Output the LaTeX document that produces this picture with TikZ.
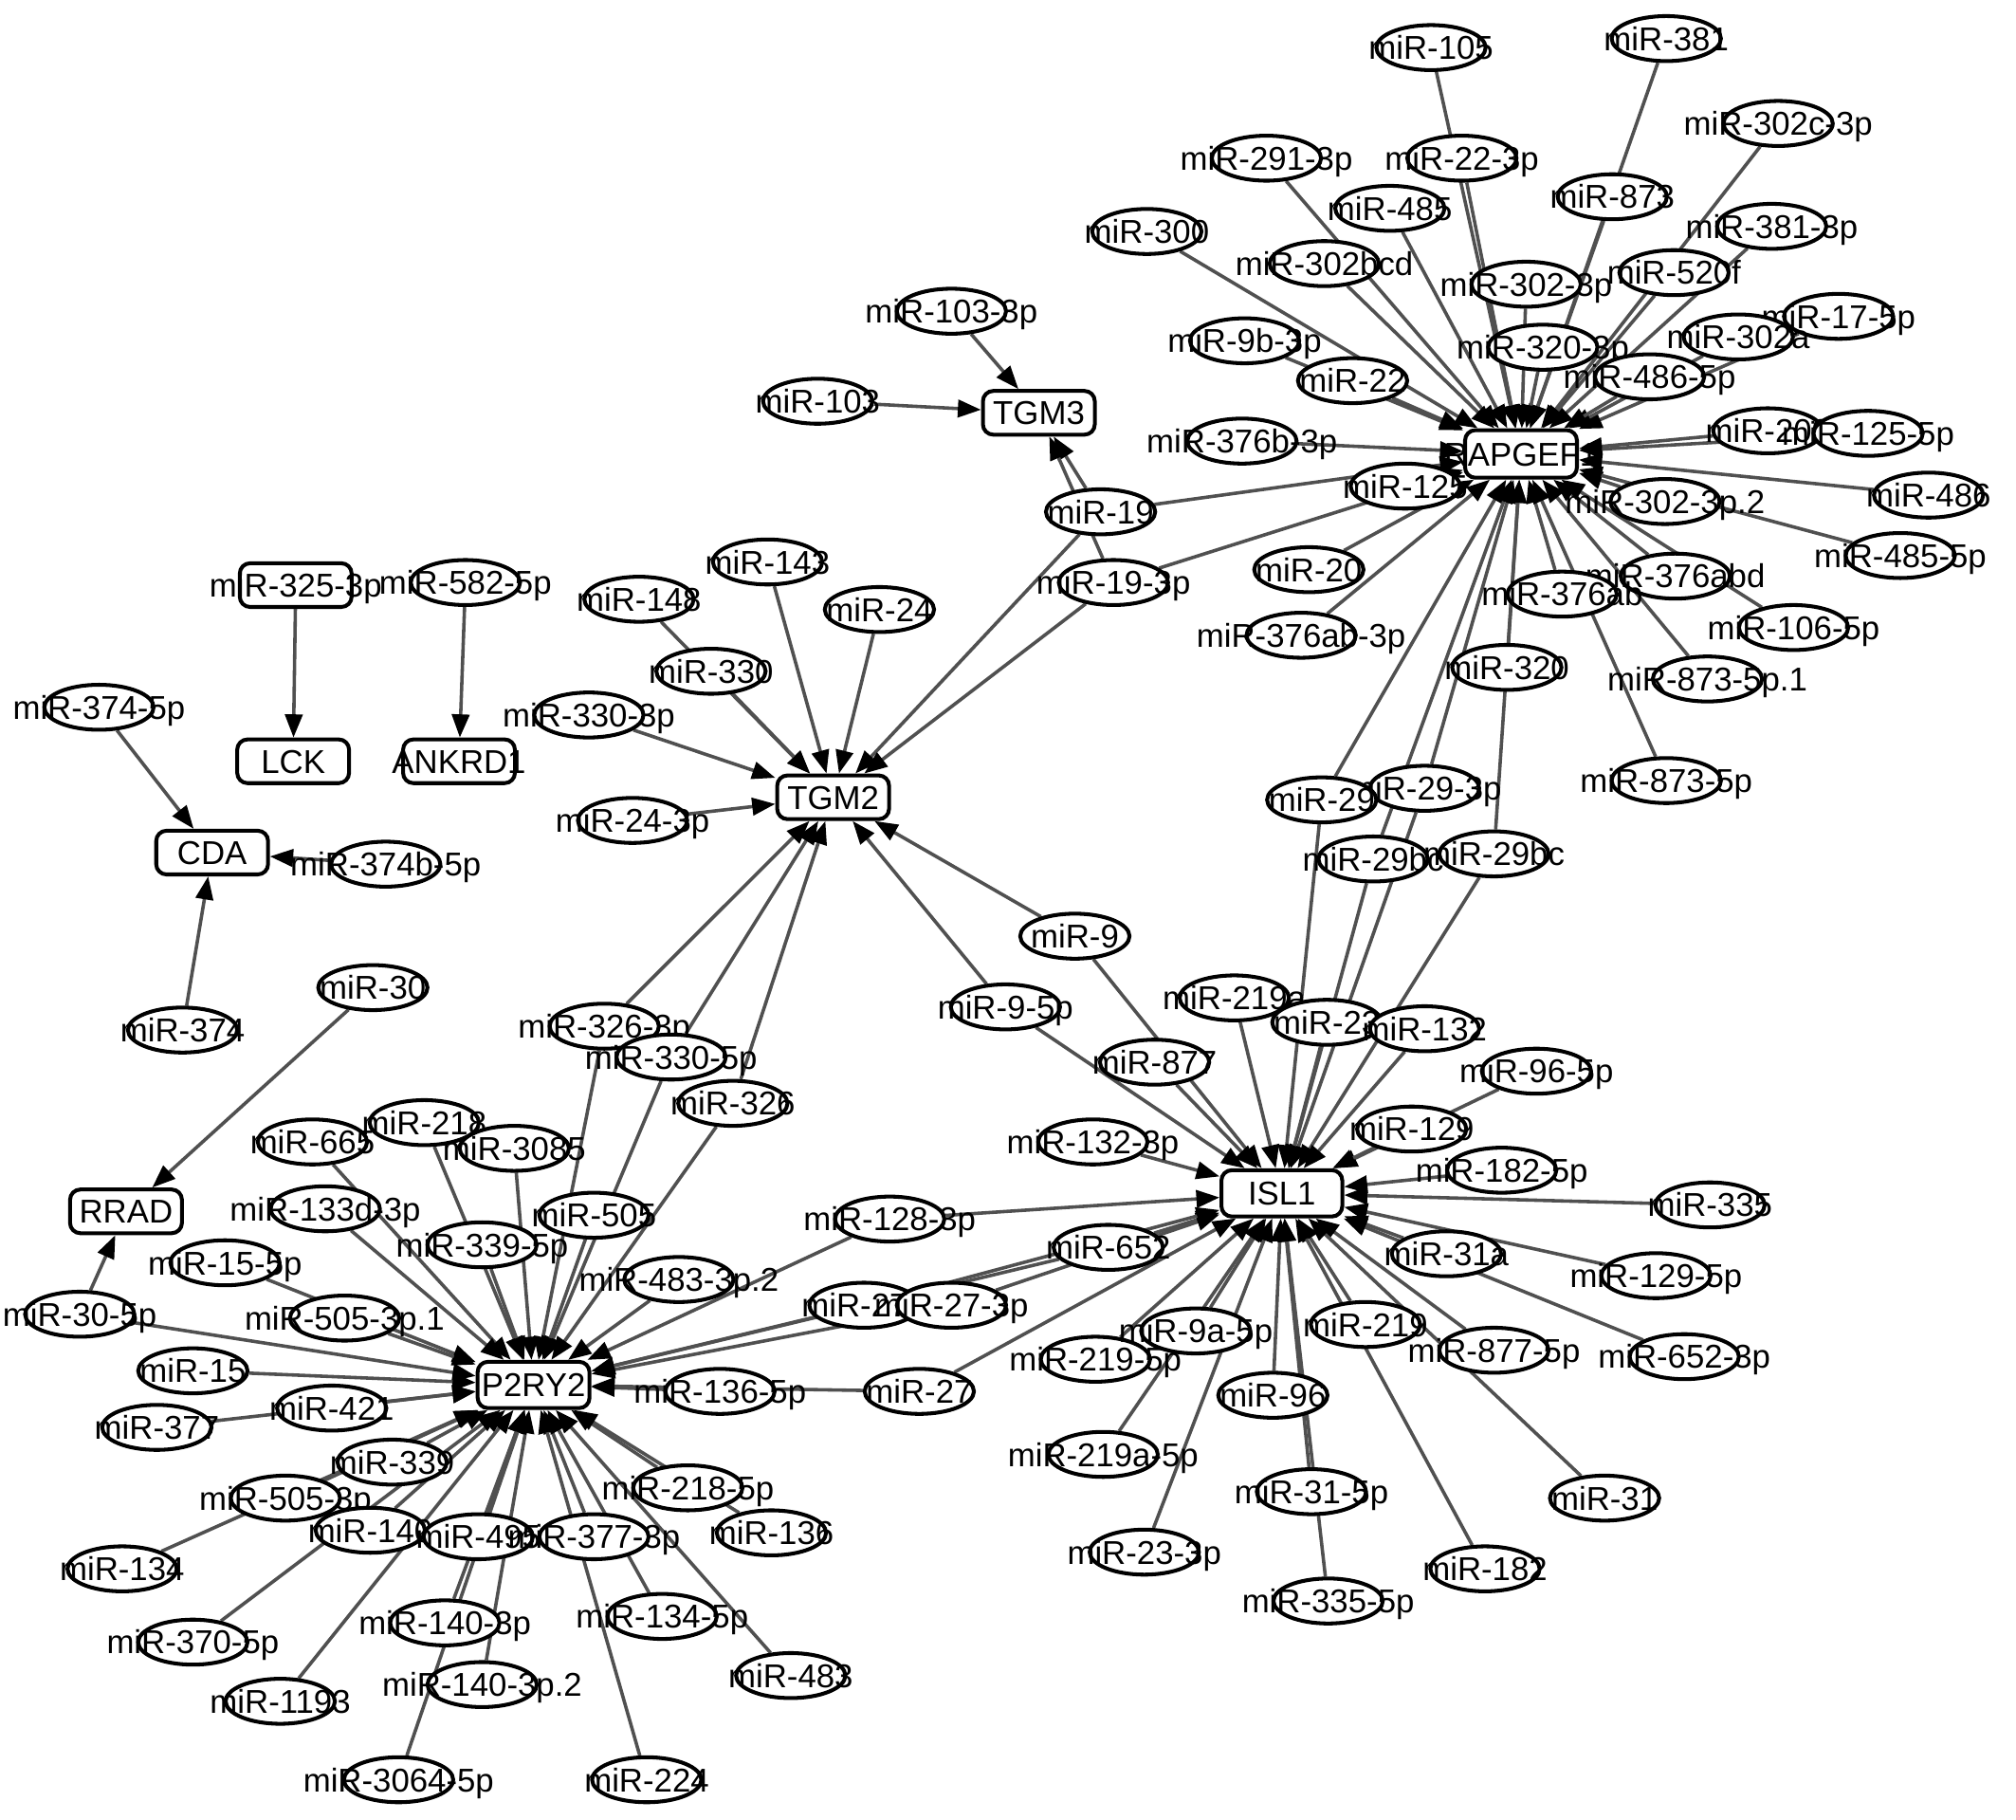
\documentclass[tikz,border=0pt]{standalone}
\usepackage{fontspec}
\usetikzlibrary{shapes.geometric,arrows.meta}
\newfontfamily\labf{Liberation Sans}
\newcommand\labfont{\labf\fontsize{7.3}{8}\selectfont}
\newcommand\tl[1]{\smash{\raisebox{-0.36em}{\makebox[0pt]{#1}}}}
\definecolor{edgegray}{RGB}{80,80,80}
\pgfdeclarelayer{bg}
\pgfdeclarelayer{genes}
\pgfdeclarelayer{edges}
\pgfsetlayers{bg,genes,edges,main}
\tikzset{
  mi/.style={ellipse, draw=black, line width=0.85pt, fill=white, minimum width=8.5mm, minimum height=3.5mm, inner sep=0pt, font=\labfont},
  gene/.style={rectangle, rounded corners=0.8mm, draw=black, line width=0.85pt, fill=white, minimum width=8.7mm, minimum height=3.4mm, inner sep=0pt, font=\labfont},
  edge/.style={draw=edgegray, line width=0.75pt, -{Triangle[length=1.8mm,width=1.35mm,color=black]}}
}
\begin{document}
\begin{tikzpicture}[x=0.1mm,y=-0.1mm]
\begin{pgfonlayer}{bg}
\fill[white] (0,0) rectangle (1568,1415);
\end{pgfonlayer}
\useasboundingbox (0,0) rectangle (1568,1415);
% ---------- genes ----------
\begin{pgfonlayer}{genes}
\node[gene, minimum height=3.7mm] (RAP) at (1183,353) {\tl{RAPGEF1}};
\node[gene] (TGM3) at (808,321) {\tl{TGM3}};
\node[gene] (TGM2) at (648,620) {\tl{TGM2}};
\node[gene, minimum width=9.4mm, minimum height=3.6mm] (ISL1) at (997,928) {\tl{ISL1}};
\node[gene, minimum height=3.6mm] (P2RY2) at (415,1077) {\tl{P2RY2}};
\node[gene] (LCK) at (228,592) {\tl{LCK}};
\node[gene] (ANK) at (357,592) {\tl{ANKRD1}};
\node[gene] (CDA) at (165,663) {\tl{CDA}};
\node[gene] (RRAD) at (98,942) {\tl{RRAD}};
\end{pgfonlayer}
% ---------- RAPGEF1 cluster ----------
\node[mi] (n105) at (1113,37) {\tl{miR-105}};
\node[mi] (n381) at (1296,30) {\tl{miR-381}};
\node[mi] (n302c3p) at (1383,96) {\tl{miR-302c-3p}};
\node[mi] (n2913p) at (985,123) {\tl{miR-291-3p}};
\node[mi] (n223p) at (1137,123) {\tl{miR-22-3p}};
\node[mi] (n873) at (1254,153) {\tl{miR-873}};
\node[mi] (n485) at (1081,162) {\tl{miR-485}};
\node[mi] (n300) at (892,180) {\tl{miR-300}};
\node[mi] (n3813p) at (1378,176) {\tl{miR-381-3p}};
\node[mi] (n302bcd) at (1030,205) {\tl{miR-302bcd}};
\node[mi] (n3023p) at (1187,221) {\tl{miR-302-3p}};
\node[mi] (n520f) at (1302,212) {\tl{miR-520f}};
\node[mi] (n175p) at (1430,246) {\tl{miR-17-5p}};
\node[mi] (n302a) at (1352,262) {\tl{miR-302a}};
\node[mi] (n9b3p) at (968,265) {\tl{miR-9b-3p}};
\node[mi] (n3203p) at (1200,270) {\tl{miR-320-3p}};
\node[mi] (n22) at (1052,296) {\tl{miR-22}};
\node[mi] (n4865p) at (1283,293) {\tl{miR-486-5p}};
\node[mi] (n376b3p) at (966,343) {\tl{miR-376b-3p}};
\node[mi] (n200) at (1375,335) {\tl{miR-200}};
\node[mi] (n1255p) at (1453,337) {\tl{miR-125-5p}};
\node[mi] (n486) at (1500,385) {\tl{miR-486}};
\node[mi] (n125) at (1093,378) {\tl{miR-125}};
\node[mi] (n19) at (856,398) {\tl{miR-19}};
\node[mi] (n3023pb) at (1295,390) {\tl{miR-302-3p.2}};
\node[mi] (n4855p) at (1478,432) {\tl{miR-485-5p}};
\node[mi] (n20) at (1018,443) {\tl{miR-20}};
\node[mi] (n193p) at (866,453) {\tl{miR-19-3p}};
\node[mi] (n376abd) at (1303,448) {\tl{miR-376abd}};
\node[mi] (n376ab) at (1215,462) {\tl{miR-376ab}};
\node[mi] (n1065p) at (1395,488) {\tl{miR-106-5p}};
\node[mi] (n376ab3p) at (1012,494) {\tl{miR-376ab-3p}};
\node[mi] (n320) at (1172,519) {\tl{miR-320}};
\node[mi] (n8735pa) at (1328,528) {\tl{miR-873-5p.1}};
\node[mi] (n8735p) at (1296,607) {\tl{miR-873-5p}};
\node[mi] (n293p) at (1108,613) {\tl{miR-29-3p}};
\node[mi] (n29) at (1028,622) {\tl{miR-29}};
\node[mi] (n29bc) at (1068,668) {\tl{miR-29bc}};
\node[mi] (n29bcb) at (1162,664) {\tl{miR-29bc}};
% ---------- TGM3 ----------
\node[mi] (n1033p) at (740,242) {\tl{miR-103-3p}};
\node[mi] (n103) at (636,312) {\tl{miR-103}};
% ---------- left small genes ----------
\node[gene] (n3253p) at (230,455) {\tl{miR-325-3p}};
\node[mi] (n5825p) at (362,453) {\tl{miR-582-5p}};
\node[mi] (n3745p) at (77,550) {\tl{miR-374-5p}};
\node[mi] (n374b5p) at (300,672) {\tl{miR-374b-5p}};
\node[mi] (n374) at (142,801) {\tl{miR-374}};
\node[mi] (n30) at (290,768) {\tl{miR-30}};
% ---------- TGM2 ----------
\node[mi] (n143) at (597,437) {\tl{miR-143}};
\node[mi] (n148) at (497,466) {\tl{miR-148}};
\node[mi] (n24) at (684,474) {\tl{miR-24}};
\node[mi] (n330) at (553,522) {\tl{miR-330}};
\node[mi] (n3303p) at (458,556) {\tl{miR-330-3p}};
\node[mi] (n243p) at (492,638) {\tl{miR-24-3p}};
\node[mi] (n9) at (836,728) {\tl{miR-9}};
\node[mi] (n95p) at (782,783) {\tl{miR-9-5p}};
% ---------- ISL1 ----------
\node[mi] (n219a) at (960,776) {\tl{miR-219a}};
\node[mi] (n23) at (1032,795) {\tl{miR-23}};
\node[mi] (n132) at (1108,800) {\tl{miR-132}};
\node[mi] (n877) at (898,826) {\tl{miR-877}};
\node[mi] (n965p) at (1195,833) {\tl{miR-96-5p}};
\node[mi] (n129) at (1098,878) {\tl{miR-129}};
\node[mi] (n1323p) at (850,888) {\tl{miR-132-3p}};
\node[mi] (n1825p) at (1168,910) {\tl{miR-182-5p}};
\node[mi] (n335) at (1330,937) {\tl{miR-335}};
\node[mi] (n1283p) at (692,948) {\tl{miR-128-3p}};
\node[mi] (n652) at (862,970) {\tl{miR-652}};
\node[mi] (n31a) at (1125,975) {\tl{miR-31a}};
\node[mi] (n1295p) at (1288,992) {\tl{miR-129-5p}};
\node[mi] (n27a) at (672,1015) {\tl{miR-27a}};
\node[mi] (n273p) at (740,1015) {\tl{miR-27-3p}};
\node[mi] (n219) at (1062,1030) {\tl{miR-219}};
\node[mi] (n8775p) at (1162,1050) {\tl{miR-877-5p}};
\node[mi] (n6523p) at (1310,1055) {\tl{miR-652-3p}};
\node[mi] (n2195p) at (852,1057) {\tl{miR-219-5p}};
\node[mi] (n9a5p) at (930,1035) {\tl{miR-9a-5p}};
\node[mi] (n96) at (990,1085) {\tl{miR-96}};
\node[mi] (n27) at (715,1082) {\tl{miR-27}};
\node[mi] (n219a5p) at (858,1131) {\tl{miR-219a-5p}};
\node[mi] (n31) at (1248,1165) {\tl{miR-31}};
\node[mi] (n315p) at (1020,1160) {\tl{miR-31-5p}};
\node[mi] (n233p) at (890,1207) {\tl{miR-23-3p}};
\node[mi] (n182) at (1155,1220) {\tl{miR-182}};
\node[mi] (n3355p) at (1033,1245) {\tl{miR-335-5p}};
% ---------- P2RY2 ----------
\node[mi] (n3263p) at (470,798) {\tl{miR-326-3p}};
\node[mi] (n3305p) at (522,822) {\tl{miR-330-5p}};
\node[mi] (n326) at (570,858) {\tl{miR-326}};
\node[mi] (n665) at (243,888) {\tl{miR-665}};
\node[mi] (n218) at (330,873) {\tl{miR-218}};
\node[mi] (n3085) at (400,893) {\tl{miR-3085}};
\node[mi] (n505) at (462,945) {\tl{miR-505}};
\node[mi] (n133d3p) at (253,940) {\tl{miR-133d-3p}};
\node[mi] (n3395p) at (375,968) {\tl{miR-339-5p}};
\node[mi] (n4833pb) at (528,995) {\tl{miR-483-3p.2}};
\node[mi] (n155p) at (175,982) {\tl{miR-15-5p}};
\node[mi] (n5053pa) at (268,1025) {\tl{miR-505-3p.1}};
\node[mi] (n305p) at (62,1022) {\tl{miR-30-5p}};
\node[mi] (n15) at (150,1066) {\tl{miR-15}};
\node[mi] (n377) at (122,1110) {\tl{miR-377}};
\node[mi] (n421) at (258,1095) {\tl{miR-421}};
\node[mi] (n1365p) at (560,1082) {\tl{miR-136-5p}};
\node[mi] (n5053p) at (222,1165) {\tl{miR-505-3p}};
\node[mi] (n339) at (305,1137) {\tl{miR-339}};
\node[mi] (n2185p) at (535,1157) {\tl{miR-218-5p}};
\node[mi] (n134) at (95,1220) {\tl{miR-134}};
\node[mi] (n140) at (288,1190) {\tl{miR-140}};
\node[mi] (n495) at (372,1195) {\tl{miR-495}};
\node[mi] (n3773p) at (462,1195) {\tl{miR-377-3p}};
\node[mi] (n136) at (600,1192) {\tl{miR-136}};
\node[mi] (n3705p) at (150,1277) {\tl{miR-370-5p}};
\node[mi] (n1403p) at (346,1262) {\tl{miR-140-3p}};
\node[mi] (n1345p) at (515,1257) {\tl{miR-134-5p}};
\node[mi] (n1193) at (218,1323) {\tl{miR-1193}};
\node[mi] (n1403pb) at (375,1310) {\tl{miR-140-3p.2}};
\node[mi] (n483) at (615,1303) {\tl{miR-483}};
\node[mi] (n30645p) at (310,1384) {\tl{miR-3064-5p}};
\node[mi] (n224) at (503,1384) {\tl{miR-224}};
% ---------- edges ----------
\begin{pgfonlayer}{edges}
\foreach \s in {n105,n381,n302c3p,n2913p,n223p,n873,n485,n300,n3813p,n302bcd,n3023p,n520f,n175p,n302a,n9b3p,n3203p,n22,n4865p,n376b3p,n200,n1255p,n486,n125,n19,n3023pb,n4855p,n20,n193p,n376abd,n376ab,n1065p,n376ab3p,n320,n8735pa,n8735p,n29,n293p,n29bc,n29bcb}
  \draw[edge] (\s) -- (RAP);
\foreach \s in {n1033p,n103,n19,n193p}
  \draw[edge] (\s) -- (TGM3);
\foreach \s in {n143,n148,n24,n330,n3303p,n243p,n19,n193p,n9,n95p,n3263p,n3305p,n326}
  \draw[edge] (\s) -- (TGM2);
\foreach \s in {n29,n293p,n29bc,n29bcb,n9,n95p,n219a,n23,n132,n877,n965p,n129,n1323p,n1825p,n335,n1283p,n652,n31a,n1295p,n273p,n27a,n219,n9a5p,n8775p,n6523p,n2195p,n96,n27,n219a5p,n31,n315p,n233p,n182,n3355p}
  \draw[edge] (\s) -- (ISL1);
\foreach \s in {n3263p,n3305p,n326,n218,n665,n3085,n505,n133d3p,n3395p,n4833pb,n155p,n5053pa,n305p,n15,n421,n377,n1365p,n27,n1283p,n273p,n27a,n652,n339,n5053p,n2185p,n134,n140,n495,n3773p,n136,n3705p,n1403p,n1345p,n1193,n1403pb,n483,n30645p,n224}
  \draw[edge] (\s) -- (P2RY2);
\draw[edge] (n3253p) -- (LCK);
\draw[edge] (n5825p) -- (ANK);
\draw[edge] (n3745p) -- (CDA);
\draw[edge] (n374b5p) -- (CDA);
\draw[edge] (n374) -- (CDA);
\draw[edge] (n30) -- (RRAD);
\draw[edge] (n305p) -- (RRAD);
\end{pgfonlayer}
\end{tikzpicture}
\end{document}
